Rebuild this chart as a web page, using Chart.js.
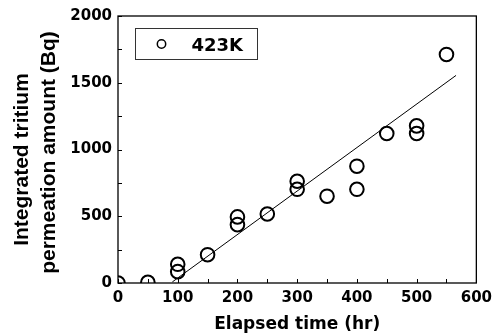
<!DOCTYPE html>
<html>
<head>
<meta charset="utf-8">
<script src="https://cdn.jsdelivr.net/npm/chart.js@4/dist/chart.umd.min.js"></script>
<style>
html,body{margin:0;padding:0;background:#fff;}
canvas{display:block;}
</style>
</head>
<body>
<canvas id="c" width="498" height="334"></canvas>
<script>
// ---- data ----
const timeHr = [0, 50, 100, 100, 150, 200, 200, 250, 300, 300, 350, 400, 400, 450, 500, 500, 550];
const amountBq = [0, 5, 85, 140, 212, 495, 437, 517, 702, 762, 650, 875, 702, 1120, 1120, 1177, 1712];
const fitX = [91, 566];
const fitY = [8, 1555];
const xTicks = [0, 100, 200, 300, 400, 500, 600];
const yTicks = [0, 500, 1000, 1500, 2000];
const seriesLabel = '423K';
const xTitle = 'Elapsed time (hr)';
const yTitleLines = ['Integrated tritium', 'permeation amount (Bq)'];

const tickFont = {family: 'DejaVu Sans', weight: 'bold', size: 15};

const decor = {
  id: 'decor',
  afterDraw(chart) {
    const ctx = chart.ctx, a = chart.chartArea;
    const xs = chart.scales.x, ys = chart.scales.y;
    ctx.save();
    ctx.strokeStyle = '#000';
    ctx.lineWidth = 1.3;
    ctx.strokeRect(a.left, a.top, a.right - a.left, a.bottom - a.top);
    ctx.lineWidth = 1;
    ctx.beginPath();
    for (let v = xs.min; v <= xs.max; v += 50) {
      const px = Math.round(xs.getPixelForValue(v)) + 0.5;
      ctx.moveTo(px, a.bottom); ctx.lineTo(px, a.bottom - 4);
    }
    for (let v = ys.min; v <= ys.max; v += 250) {
      const py = Math.round(ys.getPixelForValue(v)) + 0.5;
      ctx.moveTo(a.left, py); ctx.lineTo(a.left + 4, py);
    }
    ctx.stroke();

    // x title
    ctx.fillStyle = '#000';
    ctx.font = 'bold 17px "DejaVu Sans"';
    ctx.textAlign = 'center';
    ctx.textBaseline = 'alphabetic';
    ctx.fillText(xTitle, (a.left + a.right) / 2, 329);

    // y title
    ctx.font = 'bold 21px "Liberation Sans"';
    const pos = [[28, 159.5], [55, 152.5]];
    yTitleLines.forEach((t, i) => {
      ctx.save();
      ctx.translate(pos[i][0], pos[i][1]);
      ctx.rotate(-Math.PI / 2);
      ctx.fillText(t, 0, 0);
      ctx.restore();
    });

    // legend
    const lx = a.left + 17.5, ly = a.top + 12.5;
    ctx.strokeStyle = '#333';
    ctx.lineWidth = 1;
    ctx.strokeRect(lx, ly, 122, 31);
    ctx.strokeStyle = '#000';
    ctx.lineWidth = 1.5;
    ctx.beginPath();
    ctx.arc(lx + 26, ly + 15.5, 4.2, 0, Math.PI * 2);
    ctx.stroke();
    ctx.font = 'bold 18px "DejaVu Sans"';
    ctx.textAlign = 'left';
    ctx.fillText(seriesLabel, lx + 56, ly + 22.5);
    ctx.restore();
  }
};

new Chart(document.getElementById('c'), {
  data: {
    datasets: [
      {
        type: 'scatter',
        label: seriesLabel,
        data: timeHr.map((x, i) => ({x, y: amountBq[i]})),
        pointStyle: 'circle',
        pointRadius: 6.8,
        pointBorderWidth: 2,
        borderColor: '#000',
        backgroundColor: 'rgba(0,0,0,0)',
        clip: 0
      },
      {
        type: 'line',
        label: 'fit',
        data: fitX.map((x, i) => ({x, y: fitY[i]})),
        borderColor: '#000',
        borderWidth: 1,
        pointRadius: 0,
        fill: false,
        clip: 0
      }
    ]
  },
  options: {
    responsive: false,
    devicePixelRatio: 1,
    animation: false,
    layout: {padding: {top: 16, right: 20, left: 0, bottom: 0}},
    plugins: {legend: {display: false}, tooltip: {enabled: false}},
    scales: {
      x: {
        type: 'linear', min: 0, max: 600,
        afterBuildTicks: s => { s.ticks = xTicks.map(v => ({value: v})); },
        ticks: {font: tickFont, color: '#000', padding: 6, maxRotation: 0, callback: v => String(v)},
        grid: {display: false, drawTicks: false},
        border: {display: false},
        afterFit: s => { s.height = 51; }
      },
      y: {
        type: 'linear', min: 0, max: 2000,
        afterBuildTicks: s => { s.ticks = yTicks.map(v => ({value: v})); },
        ticks: {font: tickFont, color: '#000', padding: 6, callback: v => String(v)},
        grid: {display: false, drawTicks: false},
        border: {display: false},
        afterFit: s => { s.width = 118; }
      }
    }
  },
  plugins: [decor]
});
</script>
</body>
</html>
